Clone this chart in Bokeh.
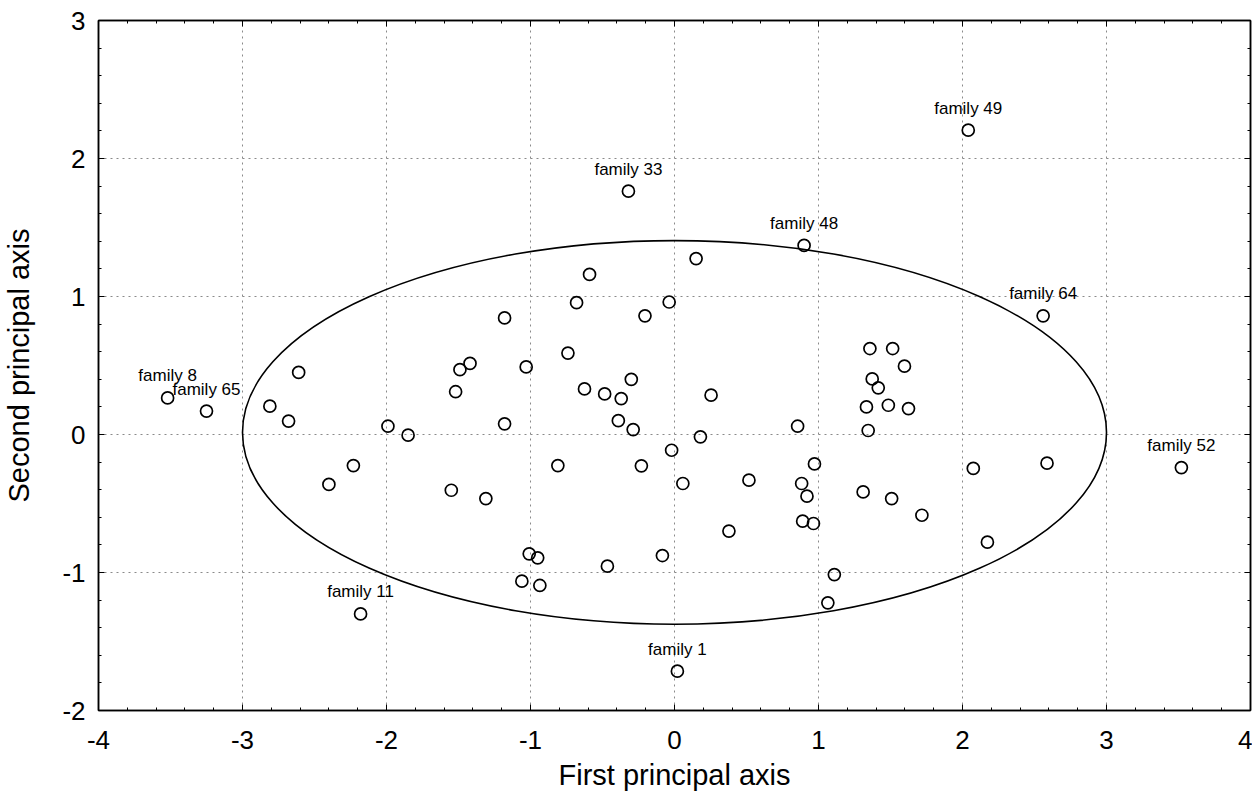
from bokeh.plotting import figure
from bokeh.models import (ColumnDataSource, LabelSet, Range1d, LinearAxis,
                          SingleIntervalTicker, PrintfTickFormatter,
                          CustomJSTickFormatter)
from bokeh.core.properties import value
from bokeh.embed import file_html
from bokeh.resources import INLINE

# ---- data: (first principal axis, second principal axis) scores per family
pc1 = [2.04, -0.32, 0.90, 2.56, -3.52, -3.25, 3.52, -2.18, 0.02,
       -2.61, -2.81, -2.68, -1.99, -1.85, -2.23, -2.40, -1.55, -1.31,
       -1.18, -0.59, -0.68, -0.037, -0.205, 0.15, -0.74, -1.42, -1.49,
       -1.03, -1.52, -0.625, -0.485, -0.37, -0.30, -0.39, -0.287, -1.18,
       0.18, -0.02, -0.81, -0.23, 0.058, 0.517, 0.972, 0.883, 0.92,
       0.89, 0.965, 0.378, -0.084, -0.466, 1.11, 1.065, -1.009, -0.95,
       -1.06, -0.935, 1.357, 1.515, 1.597, 1.373, 1.415, 1.333, 1.485,
       1.625, 1.345, 0.254, 0.855, 2.075, 2.587, 1.31, 1.508, 1.718, 2.173]
pc2 = [2.205, 1.763, 1.37, 0.86, 0.265, 0.17, -0.24, -1.30, -1.715,
       0.45, 0.205, 0.097, 0.06, -0.005, -0.225, -0.362, -0.404, -0.464,
       0.845, 1.16, 0.955, 0.96, 0.86, 1.275, 0.59, 0.515, 0.47,
       0.49, 0.31, 0.33, 0.294, 0.26, 0.40, 0.10, 0.036, 0.077,
       -0.017, -0.114, -0.225, -0.227, -0.355, -0.331, -0.213, -0.355, -0.447,
       -0.628, -0.645, -0.70, -0.877, -0.954, -1.015, -1.22, -0.865, -0.894,
       -1.063, -1.094, 0.623, 0.623, 0.495, 0.403, 0.338, 0.20, 0.212,
       0.188, 0.029, 0.285, 0.06, -0.246, -0.208, -0.416, -0.464, -0.585, -0.78]
names = ["family 49", "family 33", "family 48", "family 64", "family 8",
         "family 65", "family 52", "family 11", "family 1"] + [""] * (len(pc1) - 9)

# confidence ellipse
ell_x, ell_y, ell_w, ell_h = 0.0, 0.015, 6.0, 2.78

x_ticks_range = (-4, 4)
y_ticks_range = (-2, 3)

FONT = "Liberation Sans"

p = figure(width=1252, height=804, output_backend="svg", toolbar_location=None,
           x_range=Range1d(*x_ticks_range), y_range=Range1d(*y_ticks_range),
           min_border_left=98, min_border_right=2, min_border_top=20,
           min_border_bottom=94)
p.background_fill_color = "white"
p.border_fill_color = "white"
p.outline_line_color = "black"
p.outline_line_width = 1.5

src = ColumnDataSource(dict(x=pc1, y=pc2, name=names))

p.ellipse(x=ell_x, y=ell_y, width=ell_w, height=ell_h, fill_alpha=0,
          line_color="black", line_width=1.6)
p.scatter(x="x", y="y", source=src, size=12, marker="circle",
          fill_alpha=0, line_color="black", line_width=1.7)

labels = LabelSet(x="x", y="y", text="name", source=src, y_offset=22,
                  text_align="center", text_baseline="middle",
                  text_font=value(FONT), text_font_size=value("17px"),
                  text_color="black")
p.add_layout(labels)

for ax in (p.xaxis[0], p.yaxis[0]):
    ax.ticker = SingleIntervalTicker(interval=1, num_minor_ticks=5)
    ax.formatter = PrintfTickFormatter(format="%d")
    ax.major_label_text_font = FONT
    ax.major_label_text_font_size = "26px"
    ax.major_label_text_color = "black"
    ax.axis_label_text_font = FONT
    ax.axis_label_text_font_size = "29px"
    ax.axis_label_text_font_style = "normal"
    ax.axis_label_text_color = "black"
    ax.axis_line_color = "black"
    ax.axis_line_width = 1.5
    ax.major_tick_in = 6
    ax.major_tick_out = 0
    ax.minor_tick_in = 3
    ax.minor_tick_out = 0
    ax.major_tick_line_color = "black"
    ax.minor_tick_line_color = "black"

p.xaxis.axis_label = "First principal axis"
p.yaxis.axis_label = "Second principal axis"
p.xaxis.major_label_standoff = 20
p.xaxis.axis_label_standoff = 7
p.yaxis.major_label_standoff = 13
p.yaxis.axis_label_standoff = 24

for loc in ("above", "right"):
    ax = LinearAxis(ticker=SingleIntervalTicker(interval=1, num_minor_ticks=5),
                    formatter=CustomJSTickFormatter(code="return ''"),
                    major_label_standoff=0,
                    major_tick_in=6, major_tick_out=0, minor_tick_in=3,
                    minor_tick_out=0, axis_line_color="black", axis_line_width=1.5)
    p.add_layout(ax, loc)

for g in (p.xgrid[0], p.ygrid[0]):
    g.ticker = SingleIntervalTicker(interval=1)
    g.grid_line_color = "#8a8a8a"
    g.grid_line_dash = "2 4"
    g.grid_line_width = 1

open("out.html", "w").write(file_html(p, INLINE))
